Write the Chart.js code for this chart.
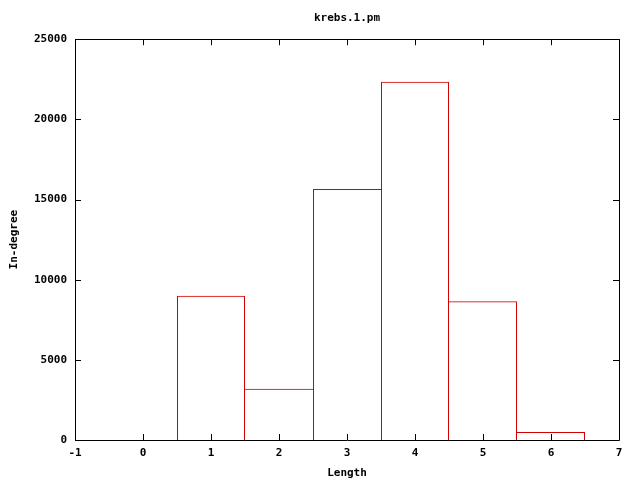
<!DOCTYPE html>
<html lang="en">
<head>
  <meta charset="UTF-8" />
  <title>krebs.1.pm</title>
  <script src="https://cdn.jsdelivr.net/npm/chart.js"></script>
  <style>
    html, body { margin: 0; padding: 0; background: #fff; }
    #wrap { width: 640px; height: 480px; }
  </style>
</head>
<body>
  <div id="wrap"><canvas id="krebsChart" width="640" height="480"></canvas></div>

  <script>
    // path length -> in-degree counts
    const lengths = [1, 2, 3, 4, 5, 6];
    const inDegree = [9000, 3200, 15650, 22350, 8650, 500];

    const xMin = -1, xMax = 7;
    const yMin = 0, yMax = 25000, yStep = 5000;

    const fontFam = "'DejaVu Sans Mono', 'Liberation Mono', monospace";
    const txtFont = { family: fontFam, size: 11, weight: 'bold' };

    // boxes share edges: the taller box of each pair draws the common edge
    function boxBorder(ctx) {
      const i = ctx.dataIndex;
      const v = inDegree[i];
      const prev = i > 0 ? inDegree[i - 1] : -1;
      const next = i < inDegree.length - 1 ? inDegree[i + 1] : -1;
      return {
        top: 1,
        bottom: 0,
        left: v >= prev ? 1 : 0,
        right: v > next ? 1 : 0
      };
    }

    // gnuplot-like frame with inward ticks on all four sides
    const framePlugin = {
      id: 'frame',
      afterDraw(chart) {
        const ctx = chart.ctx;
        const a = chart.chartArea;
        const xs = chart.scales.x, ys = chart.scales.y;
        const tl = 6;
        ctx.save();
        ctx.strokeStyle = '#000';
        ctx.lineWidth = 1;
        ctx.beginPath();
        ctx.rect(Math.round(a.left) + 0.5, Math.round(a.top) + 0.5,
                 Math.round(a.right - a.left), Math.round(a.bottom - a.top));
        xs.ticks.forEach(t => {
          const px = Math.round(xs.getPixelForValue(t.value)) + 0.5;
          ctx.moveTo(px, a.bottom); ctx.lineTo(px, a.bottom - tl);
          ctx.moveTo(px, a.top); ctx.lineTo(px, a.top + tl);
        });
        ys.ticks.forEach(t => {
          const py = Math.round(ys.getPixelForValue(t.value)) + 0.5;
          ctx.moveTo(a.left, py); ctx.lineTo(a.left + tl, py);
          ctx.moveTo(a.right, py); ctx.lineTo(a.right - tl, py);
        });
        ctx.stroke();
        ctx.restore();
      }
    };

    new Chart(document.getElementById('krebsChart'), {
      type: 'bar',
      data: {
        datasets: [{
          label: 'krebs.1.pm',
          data: lengths.map((l, i) => ({ x: l, y: inDegree[i] })),
          backgroundColor: 'rgba(0,0,0,0)',
          borderColor: 'rgb(210,0,0)',
          borderWidth: boxBorder,
          inflateAmount: 0,
          barPercentage: 1,
          categoryPercentage: 1
        }]
      },
      options: {
        responsive: false,
        animation: false,
        layout: { padding: { left: 0, right: 21, top: 0, bottom: 0 } },
        plugins: {
          legend: { display: false },
          tooltip: { enabled: false },
          title: {
            display: true,
            text: 'krebs.1.pm',
            color: '#000',
            font: txtFont,
            fullSize: false,
            padding: { top: 12, bottom: 14 }
          }
        },
        scales: {
          x: {
            type: 'linear',
            min: xMin,
            max: xMax,
            offset: false,
            grid: { display: false, drawTicks: false },
            border: { display: false },
            ticks: { stepSize: 1, color: '#000', font: txtFont, padding: 7, maxRotation: 0,
                     callback: v => String(v) },
            title: { display: true, text: 'Length', color: '#000', font: txtFont, padding: { top: 4, bottom: 0 } },
            afterFit(s) { s.height = 40; }
          },
          y: {
            min: yMin,
            max: yMax,
            grid: { display: false, drawTicks: false },
            border: { display: false },
            ticks: { stepSize: yStep, color: '#000', font: txtFont, padding: 8,
                     callback: v => String(v) },
            title: { display: true, text: 'In-degree', color: '#000', font: txtFont, padding: { top: 8, bottom: 0 } },
            afterFit(s) { s.width = 75; }
          }
        }
      },
      plugins: [framePlugin]
    });
  </script>
</body>
</html>
